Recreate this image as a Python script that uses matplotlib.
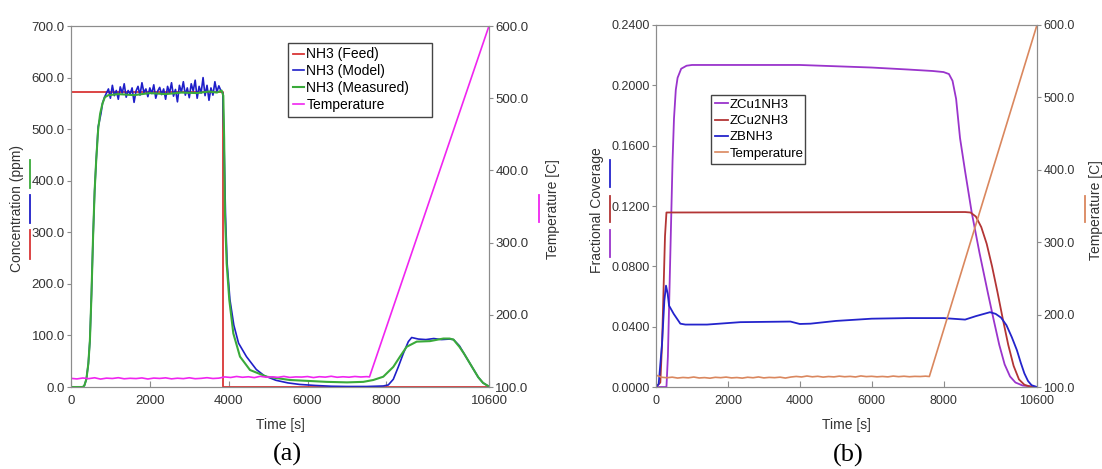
import matplotlib
matplotlib.use('Agg')
import matplotlib.pyplot as plt
from matplotlib.ticker import FixedLocator, FormatStrFormatter

plt.rcParams['font.family'] = ['Liberation Sans', 'DejaVu Sans']

# ---------------- (a) NH3 concentration ----------------
feed_t = [0, 3847, 3847, 10600]
feed_c = [572, 572, 0, 0]

# model: noisy plateau read every 50 s
model_plateau = [578, 560, 585, 565, 575, 558, 582, 570, 588, 562,
                 575, 568, 580, 552, 574, 583, 566, 590, 571, 578,
                 563, 580, 569, 586, 560, 574, 581, 567, 578, 558,
                 583, 570, 590, 564, 577, 553, 585, 572, 592, 566,
                 580, 561, 588, 574, 595, 560, 583, 570, 600, 565,
                 585, 556, 580, 566, 592, 572, 584, 575]
model_t = ([0, 300, 340, 390, 440, 480, 520, 560, 600, 640, 690, 720, 760, 800, 850, 900]
           + list(range(950, 3801, 50))
           + [3850, 3880, 3920, 3960, 4030, 4130, 4250, 4450, 4700, 4900,
              5200, 5500, 5800, 6200, 6600, 7000, 7500, 7920, 8047, 8174,
              8301, 8428, 8555, 8640, 8809, 9000, 9200, 9400, 9600, 9700,
              9850, 9966, 10147, 10328, 10450, 10600])
model_c = ([0, 0, 3, 15, 45, 90, 180, 290, 380, 440, 505, 515, 530, 550, 562, 570]
           + model_plateau
           + [570, 480, 330, 240, 170, 120, 85, 59, 34, 22,
              13, 8, 5, 3, 1.5, 1, 1, 2, 4, 15,
              39, 65, 88, 96, 93, 92, 94, 92, 93, 92,
              80, 65, 42, 19, 8, 1])

meas_t = [0, 300, 340, 390, 440, 480, 520, 560, 600, 640,
          690, 740, 800, 860, 950, 1200, 1600, 2000, 2400, 2800,
          3200, 3500, 3700, 3820, 3863, 3885, 3905, 3948, 4015, 4117,
          4286, 4540, 4963, 5554, 6485, 7000, 7413, 7667, 7920, 8174,
          8344, 8513, 8767, 9105, 9443, 9600, 9700, 9850, 9966, 10147,
          10328, 10450, 10600]
meas_c = [0, 0, 3, 15, 45, 90, 180, 290, 380, 440,
          500, 530, 550, 562, 566, 568, 566, 570, 568, 571,
          570, 573, 571, 575, 565, 480, 337, 240, 169, 104,
          59, 33, 20, 13.6, 10, 9, 10, 13.6, 20, 39,
          59, 78, 88, 89, 94, 94, 92, 78, 65, 42,
          19, 8, 1]

tempA_t = list(range(0, 7501, 150)) + [7570, 10600]
tempA_v = [112.0, 111.2, 112.5, 111.6, 112.8, 111.0, 112.3, 111.8, 112.9, 111.4,
           112.1, 111.7, 112.6, 111.1, 112.4, 111.9, 112.7, 111.3, 112.2, 111.6,
           112.8, 111.5, 112.0, 112.9, 111.8, 112.3, 114.0, 113.2, 114.6, 113.5,
           114.2, 113.0, 114.8, 113.6, 114.1, 113.4, 114.7, 113.3, 114.0, 113.8,
           114.5, 113.1, 114.3, 113.7, 114.9, 113.5, 114.2, 113.6, 114.6, 113.9,
           114.4, 114.0, 600]

# ---------------- (b) fractional coverage ----------------
cu1_t = [0, 290, 330, 380, 420, 460, 500, 550, 600, 700,
         850, 1000, 4000, 6000, 7000, 7700, 8000, 8150, 8250, 8350,
         8459, 8600, 8784, 9000, 9237, 9400, 9550, 9700, 9850, 10000,
         10200, 10600]
cu1_v = [0, 0, 0.02, 0.07, 0.11, 0.15, 0.178, 0.197, 0.205, 0.211,
         0.213, 0.2135, 0.2135, 0.2118, 0.2105, 0.2095, 0.2088, 0.2075, 0.203, 0.191,
         0.165, 0.143, 0.1157, 0.089, 0.062, 0.044, 0.028, 0.015, 0.007, 0.003,
         0.001, 0]

cu2_t = [0, 120, 170, 210, 250, 290, 8600, 8750, 8900, 9050,
         9200, 9350, 9500, 9650, 9800, 9950, 10100, 10250, 10450, 10600]
cu2_v = [0, 0.003, 0.03, 0.065, 0.1, 0.1157, 0.116, 0.1157, 0.113, 0.106,
         0.095, 0.08, 0.063, 0.045, 0.028, 0.014, 0.005, 0.0015, 0, 0]

zb_t = [0, 74, 167, 232, 278, 325, 362, 492, 677, 816,
        1419, 2347, 3739, 4000, 4300, 5000, 6000, 7000, 8000, 8600,
        8900, 9293, 9450, 9600, 9750, 9900, 10040, 10150, 10250, 10350,
        10450, 10600]
zb_v = [0, 0.002, 0.0287, 0.0573, 0.0672, 0.0617, 0.054, 0.0485, 0.042, 0.0414,
        0.0414, 0.043, 0.0434, 0.0418, 0.042, 0.0438, 0.0453, 0.0457, 0.0457, 0.0447,
        0.047, 0.0496, 0.0485, 0.046, 0.041, 0.033, 0.0245, 0.016, 0.009, 0.004,
        0.0012, 0]

tempB_t = list(range(0, 7501, 150)) + [7605, 10600]
tempB_v = [116.5, 113.5, 112.8, 113.6, 112.4, 113.2, 112.7, 113.8, 112.5, 113.0,
           112.2, 113.4, 112.9, 113.7, 112.6, 113.1, 112.3, 113.5, 112.8, 113.9,
           112.6, 113.3, 112.9, 113.6, 112.4, 113.8, 114.6, 113.9, 115.2, 114.1,
           114.8, 113.7, 114.5, 114.0, 115.0, 114.2, 114.7, 113.9, 115.3, 114.4,
           114.8, 114.1, 114.6, 114.0, 115.1, 114.3, 114.9, 114.2, 114.7, 114.5,
           115.0, 114.5, 600]

x_ticks = [0, 2000, 4000, 6000, 8000, 10600]
temp_ticks = [100, 200, 300, 400, 500, 600]

c_feed, c_model, c_meas, c_tempA = '#d93636', '#1f1fc8', '#3aaa3a', '#f025f0'
c_cu1, c_cu2, c_zb, c_tempB = '#9a34cc', '#b33535', '#2424cc', '#da875e'
gray = '#8c8c8c'
txt = '#333333'


def style(ax, fs):
    for s in ax.spines.values():
        s.set_color(gray)
    ax.tick_params(axis='x', direction='in', length=4, color=gray, labelcolor=txt,
                   labelsize=fs, pad=6, top=False)
    ax.tick_params(axis='y', direction='out', length=3, color=gray, labelcolor=txt,
                   labelsize=fs, pad=1.5)


def bar(ax, x, y0, y1, color):
    ax.plot([x, x], [y0, y1], transform=ax.transAxes, color=color, lw=1.3, clip_on=False)


fig = plt.figure(figsize=(11.02, 4.69), dpi=100)

# ---- panel (a)
ax1 = fig.add_axes([0.0644, 0.1748, 0.3793, 0.7697])
ax1t = ax1.twinx()
h1, = ax1.plot(feed_t, feed_c, color=c_feed, lw=1.3, label='NH3 (Feed)')
h2, = ax1.plot(model_t, model_c, color=c_model, lw=1.2, label='NH3 (Model)')
h3, = ax1.plot(meas_t, meas_c, color=c_meas, lw=1.5, label='NH3 (Measured)')
h4, = ax1t.plot(tempA_t, tempA_v, color=c_tempA, lw=1.2, label='Temperature')
ax1.set_xlim(0, 10600)
ax1.set_ylim(0, 700)
ax1t.set_ylim(100, 600)
ax1.xaxis.set_major_locator(FixedLocator(x_ticks))
ax1.yaxis.set_major_locator(FixedLocator(range(0, 701, 100)))
ax1.yaxis.set_major_formatter(FormatStrFormatter('%.1f'))
ax1t.yaxis.set_major_locator(FixedLocator(temp_ticks))
ax1t.yaxis.set_major_formatter(FormatStrFormatter('%.1f'))
style(ax1, 9.5)
style(ax1t, 9.5)
ax1.set_xlabel('Time [s]', fontsize=10, color=txt, labelpad=8)
ax1.set_ylabel('Concentration (ppm)', fontsize=10, color=txt)
ax1.yaxis.set_label_coords(-0.112, 0.494)
ax1t.set_ylabel('Temperature [C]', fontsize=10, color=txt)
ax1t.yaxis.set_label_coords(1.136, 0.494)
bar(ax1, -0.097, 0.551, 0.630, c_meas)
bar(ax1, -0.097, 0.454, 0.532, c_model)
bar(ax1, -0.097, 0.356, 0.435, c_feed)
bar(ax1t, 1.12, 0.458, 0.532, c_tempA)
leg = ax1t.legend([h1, h2, h3, h4], [h.get_label() for h in (h1, h2, h3, h4)],
                  loc='upper left', bbox_to_anchor=(0.52, 0.754, 0.343, 0.2), mode='expand',
                  fontsize=10, frameon=True, fancybox=False, framealpha=1,
                  handlelength=0.8, handletextpad=0.15, labelspacing=0.2,
                  borderpad=0.35, borderaxespad=0)
leg.get_frame().set_edgecolor('#444444')
leg.get_frame().set_linewidth(1.0)
ax1.text(0.518, -0.188, '(a)', transform=ax1.transAxes, ha='center', va='center',
         fontsize=19, family='Liberation Serif')

# ---- panel (b)
ax2 = fig.add_axes([0.5953, 0.1748, 0.3457, 0.7719])
ax2t = ax2.twinx()
g1, = ax2.plot(cu1_t, cu1_v, color=c_cu1, lw=1.3, label='ZCu1NH3')
g2, = ax2.plot(cu2_t, cu2_v, color=c_cu2, lw=1.3, label='ZCu2NH3')
g3, = ax2.plot(zb_t, zb_v, color=c_zb, lw=1.3, label='ZBNH3')
g4, = ax2t.plot(tempB_t, tempB_v, color=c_tempB, lw=1.2, label='Temperature')
ax2.set_xlim(0, 10600)
ax2.set_ylim(0, 0.24)
ax2t.set_ylim(100, 600)
ax2.xaxis.set_major_locator(FixedLocator(x_ticks))
ax2.yaxis.set_major_locator(FixedLocator([0, 0.04, 0.08, 0.12, 0.16, 0.2, 0.24]))
ax2.yaxis.set_major_formatter(FormatStrFormatter('%.4f'))
ax2t.yaxis.set_major_locator(FixedLocator(temp_ticks))
ax2t.yaxis.set_major_formatter(FormatStrFormatter('%.1f'))
style(ax2, 9)
style(ax2t, 9)
ax2.set_xlabel('Time [s]', fontsize=10, color=txt, labelpad=8)
ax2.set_ylabel('Fractional Coverage', fontsize=10, color=txt)
ax2.yaxis.set_label_coords(-0.136, 0.49)
ax2t.set_ylabel('Temperature [C]', fontsize=10, color=txt)
ax2t.yaxis.set_label_coords(1.136, 0.49)
bar(ax2, -0.121, 0.552, 0.627, c_zb)
bar(ax2, -0.121, 0.455, 0.529, c_cu2)
bar(ax2, -0.121, 0.359, 0.434, c_cu1)
bar(ax2t, 1.125, 0.455, 0.529, c_tempB)
leg2 = ax2t.legend([g1, g2, g3, g4], [h.get_label() for h in (g1, g2, g3, g4)],
                   loc='upper left', bbox_to_anchor=(0.145, 0.607, 0.246, 0.2), mode='expand',
                   fontsize=9.5, frameon=True, fancybox=False, framealpha=1,
                   handlelength=1.0, handletextpad=0.1, labelspacing=0.3,
                   borderpad=0.3, borderaxespad=0)
leg2.get_frame().set_edgecolor('#444444')
leg2.get_frame().set_linewidth(1.0)
ax2.text(0.505, -0.188, '(b)', transform=ax2.transAxes, ha='center', va='center',
         fontsize=19, family='Liberation Serif')

fig.savefig('out.png', dpi=100)
